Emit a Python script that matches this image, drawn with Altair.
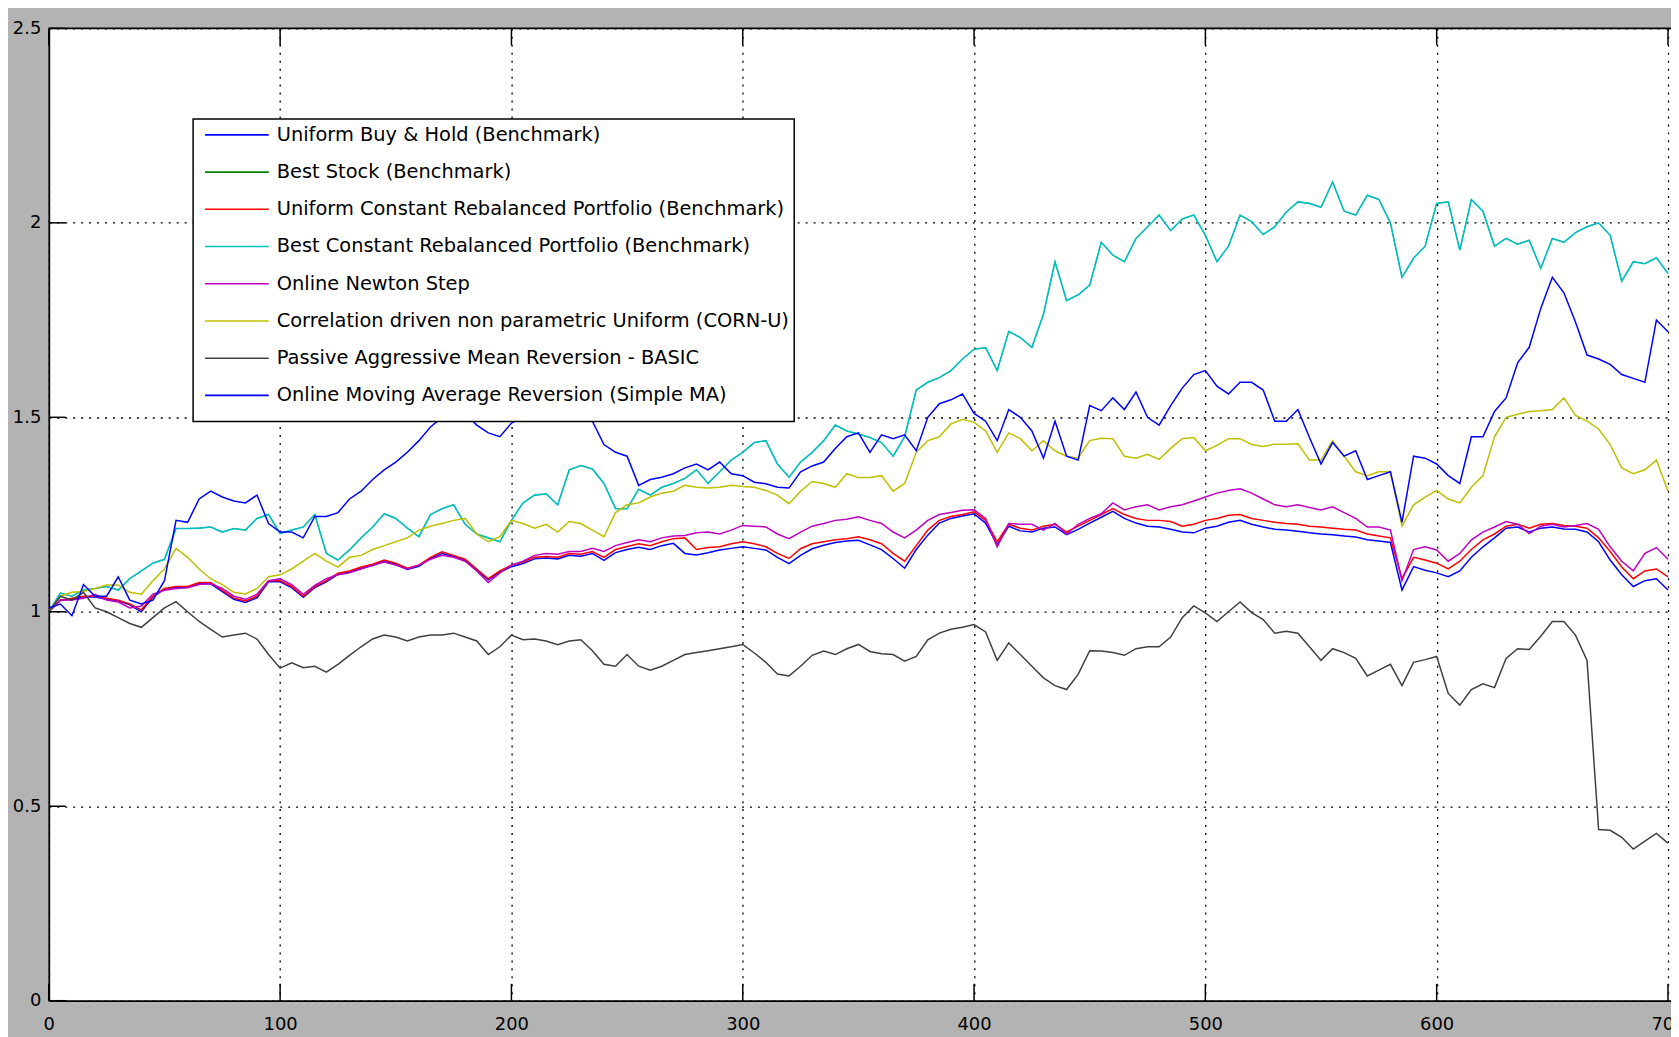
import altair as alt
import pandas as pd

# ---------------- data ----------------
T = list(range(0, 701, 5))

UBAH = [
    1.0, 1.03, 1.032, 1.038, 1.038, 1.032, 1.028, 1.018, 1.0, 1.038,
    1.058, 1.063, 1.063, 1.072, 1.072, 1.052, 1.032, 1.024, 1.036, 1.077,
    1.077, 1.062, 1.037, 1.062, 1.077, 1.096, 1.102, 1.112, 1.119, 1.13,
    1.122, 1.109, 1.117, 1.137, 1.15, 1.142, 1.132, 1.107, 1.082, 1.102,
    1.116, 1.124, 1.136, 1.138, 1.136, 1.145, 1.143, 1.15, 1.132, 1.152,
    1.16, 1.166, 1.16, 1.17, 1.176, 1.15, 1.146, 1.152, 1.159, 1.163,
    1.167, 1.163, 1.159, 1.14, 1.124, 1.145, 1.162, 1.171, 1.178, 1.182,
    1.184, 1.172, 1.16, 1.137, 1.112, 1.16, 1.197, 1.228, 1.24, 1.246,
    1.252, 1.228, 1.172, 1.22, 1.208, 1.205, 1.215, 1.218, 1.198, 1.212,
    1.228, 1.243, 1.258, 1.24, 1.228, 1.22, 1.218, 1.212, 1.205, 1.203,
    1.215, 1.22, 1.23, 1.235, 1.225, 1.218, 1.212, 1.21, 1.207, 1.203,
    1.2, 1.198, 1.195, 1.192, 1.185, 1.182, 1.178, 1.056, 1.116, 1.107,
    1.1, 1.09, 1.105, 1.14, 1.167, 1.19, 1.215, 1.218, 1.205, 1.215,
    1.218, 1.213, 1.212, 1.205, 1.18, 1.133, 1.095, 1.065, 1.08, 1.085,
    1.056,
]

BCRP = [
    1.0, 1.048, 1.04, 1.056, 1.06, 1.065, 1.056, 1.085, 1.105, 1.125,
    1.135, 1.214, 1.214, 1.215, 1.218, 1.205, 1.214, 1.21, 1.24, 1.25,
    1.201, 1.21, 1.218, 1.25, 1.15, 1.133, 1.159, 1.19, 1.218, 1.252,
    1.24, 1.215, 1.193, 1.25, 1.265, 1.275, 1.225, 1.20, 1.19, 1.18,
    1.235, 1.28, 1.30, 1.303, 1.275, 1.365, 1.376, 1.367, 1.33, 1.265,
    1.265, 1.315, 1.30, 1.32, 1.33, 1.343, 1.365, 1.33, 1.36, 1.39,
    1.41, 1.435, 1.44, 1.38, 1.346, 1.385, 1.41, 1.44, 1.48, 1.465,
    1.457, 1.448, 1.435, 1.40, 1.45, 1.57, 1.59, 1.602, 1.62, 1.65,
    1.675, 1.679, 1.62, 1.721, 1.705, 1.68, 1.765, 1.90, 1.80, 1.815,
    1.84, 1.95, 1.917, 1.90, 1.96, 1.99, 2.02, 1.98, 2.01, 2.02,
    1.968, 1.90, 1.94, 2.02, 2.003, 1.97, 1.99, 2.028, 2.054, 2.05,
    2.04, 2.105, 2.03, 2.02, 2.071, 2.06, 2.0, 1.86, 1.909, 1.94,
    2.05, 2.054, 1.93, 2.06, 2.03, 1.94, 1.96, 1.945, 1.955, 1.883,
    1.96, 1.95, 1.975, 1.99, 2.0, 1.968, 1.85, 1.90, 1.895, 1.91,
    1.87,
]

# Best Stock is hidden under the Best CRP line in the picture
BEST_STOCK = list(BCRP)

UCRP = [
    1.0, 1.03, 1.035, 1.04, 1.04, 1.035, 1.03, 1.02, 1.005, 1.04,
    1.06, 1.065, 1.065, 1.075, 1.075, 1.055, 1.035, 1.028, 1.04, 1.08,
    1.08, 1.065, 1.04, 1.065, 1.08, 1.099, 1.105, 1.115, 1.122, 1.133,
    1.125, 1.112, 1.12, 1.14, 1.154, 1.145, 1.135, 1.11, 1.085, 1.105,
    1.12, 1.128, 1.14, 1.142, 1.14, 1.15, 1.148, 1.155, 1.14, 1.16,
    1.168, 1.175, 1.17, 1.18, 1.188, 1.19, 1.16, 1.165, 1.167, 1.175,
    1.18, 1.175, 1.167, 1.15, 1.137, 1.162, 1.175, 1.18, 1.185, 1.188,
    1.193, 1.185, 1.175, 1.15, 1.13, 1.17, 1.21, 1.235, 1.245, 1.25,
    1.257, 1.235, 1.18, 1.225, 1.215, 1.21, 1.22, 1.225, 1.205, 1.22,
    1.235, 1.25, 1.265, 1.25, 1.24, 1.235, 1.235, 1.232, 1.22, 1.225,
    1.235, 1.24, 1.248, 1.25, 1.24, 1.235, 1.23, 1.227, 1.225, 1.22,
    1.218, 1.215, 1.212, 1.21, 1.2, 1.195, 1.19, 1.085, 1.14, 1.133,
    1.125, 1.11, 1.13, 1.16, 1.185, 1.2, 1.22, 1.225, 1.215, 1.225,
    1.227, 1.222, 1.22, 1.215, 1.19, 1.155, 1.115, 1.085, 1.105, 1.11,
    1.09,
]

ONS = [
    1.0, 1.03, 1.03, 1.035, 1.045, 1.03, 1.025, 1.01, 1.015, 1.045,
    1.055, 1.06, 1.062, 1.07, 1.072, 1.06, 1.04, 1.032, 1.045, 1.08,
    1.085, 1.07, 1.045, 1.068, 1.085, 1.095, 1.1, 1.11, 1.12, 1.128,
    1.12, 1.11, 1.12, 1.135, 1.145, 1.14, 1.13, 1.105, 1.075, 1.1,
    1.12, 1.13, 1.145, 1.15, 1.148, 1.155, 1.155, 1.163, 1.155, 1.17,
    1.178, 1.185, 1.18, 1.19, 1.195, 1.196, 1.203, 1.205, 1.2, 1.21,
    1.222, 1.22, 1.218, 1.2, 1.188, 1.205, 1.22, 1.227, 1.235, 1.238,
    1.244, 1.235, 1.227, 1.205, 1.19, 1.21, 1.235, 1.25, 1.255, 1.261,
    1.262, 1.24, 1.167, 1.227, 1.225, 1.225, 1.21, 1.227, 1.2, 1.225,
    1.24, 1.252, 1.28, 1.262, 1.27, 1.275, 1.262, 1.27, 1.275, 1.285,
    1.295, 1.305, 1.312, 1.316, 1.305, 1.29, 1.275, 1.27, 1.275, 1.268,
    1.262, 1.27, 1.255, 1.24, 1.218, 1.218, 1.21, 1.08, 1.16, 1.167,
    1.159, 1.13, 1.15, 1.185, 1.205, 1.218, 1.232, 1.225, 1.201, 1.22,
    1.225, 1.218, 1.222, 1.227, 1.212, 1.167, 1.13, 1.105, 1.15, 1.165,
    1.135,
]

CORN = [
    1.0, 1.04, 1.05, 1.052, 1.06, 1.069, 1.069, 1.05, 1.045, 1.08,
    1.11, 1.163, 1.14, 1.11, 1.085, 1.07, 1.05, 1.046, 1.06, 1.09,
    1.095, 1.11, 1.13, 1.15, 1.13, 1.115, 1.14, 1.145, 1.16, 1.17,
    1.18, 1.19, 1.21, 1.22, 1.227, 1.235, 1.24, 1.20, 1.18, 1.193,
    1.235, 1.227, 1.215, 1.225, 1.205, 1.232, 1.227, 1.21, 1.193, 1.255,
    1.275, 1.28, 1.295, 1.305, 1.31, 1.325, 1.32, 1.318, 1.32, 1.325,
    1.322, 1.32, 1.312, 1.30, 1.278, 1.31, 1.335, 1.33, 1.32, 1.355,
    1.345, 1.345, 1.35, 1.31, 1.33, 1.41, 1.44, 1.45, 1.483, 1.495,
    1.487, 1.465, 1.41, 1.46, 1.445, 1.414, 1.44, 1.414, 1.40, 1.395,
    1.44, 1.446, 1.445, 1.40, 1.395, 1.405, 1.392, 1.42, 1.445, 1.448,
    1.414, 1.428, 1.445, 1.445, 1.43, 1.425, 1.431, 1.431, 1.432, 1.39,
    1.39, 1.44, 1.40, 1.36, 1.35, 1.36, 1.36, 1.22, 1.275, 1.295,
    1.312, 1.29, 1.28, 1.32, 1.35, 1.45, 1.50, 1.508, 1.515, 1.517,
    1.52, 1.55, 1.505, 1.49, 1.47, 1.43, 1.37, 1.355, 1.365, 1.39,
    1.31,
]

PAMR = [
    1.0, 1.04, 1.03, 1.05, 1.01, 1.0, 0.985, 0.97, 0.96, 0.985,
    1.01, 1.026, 1.0, 0.975, 0.955, 0.935, 0.94, 0.945, 0.93, 0.89,
    0.855, 0.869, 0.856, 0.86, 0.845, 0.865, 0.888, 0.91, 0.93, 0.94,
    0.935, 0.925, 0.935, 0.94, 0.94, 0.945, 0.935, 0.925, 0.89, 0.91,
    0.94, 0.928, 0.93, 0.925, 0.915, 0.925, 0.928, 0.9, 0.865, 0.86,
    0.89, 0.86, 0.85, 0.86, 0.875, 0.89, 0.895, 0.9, 0.905, 0.91,
    0.916, 0.894, 0.87, 0.84, 0.835, 0.86, 0.888, 0.899, 0.89, 0.905,
    0.916, 0.898, 0.892, 0.89, 0.873, 0.885, 0.928, 0.945, 0.955, 0.96,
    0.967, 0.948, 0.875, 0.92, 0.89, 0.86, 0.83, 0.81, 0.80, 0.839,
    0.9, 0.899, 0.895, 0.888, 0.905, 0.91, 0.91, 0.935, 0.985, 1.015,
    0.997, 0.975, 1.0, 1.025, 0.998, 0.98, 0.945, 0.95, 0.945, 0.91,
    0.875, 0.905, 0.895, 0.88, 0.835, 0.85, 0.865, 0.81, 0.87, 0.877,
    0.885, 0.79, 0.76, 0.8, 0.815, 0.805, 0.88, 0.905, 0.903, 0.937,
    0.975, 0.975, 0.94, 0.875, 0.44, 0.438, 0.42, 0.39, 0.41, 0.43,
    0.405,
]

OLMAR = [
    1.01, 1.02, 0.99, 1.07, 1.04, 1.04, 1.09, 1.03, 1.02, 1.03,
    1.08, 1.235, 1.23, 1.29, 1.31, 1.295, 1.285, 1.28, 1.30, 1.227,
    1.205, 1.205, 1.19, 1.245, 1.245, 1.255, 1.29, 1.31, 1.34, 1.365,
    1.385, 1.41, 1.44, 1.475, 1.50, 1.52, 1.51, 1.48, 1.46, 1.45,
    1.485, 1.50, 1.52, 1.53, 1.53, 1.52, 1.51, 1.49, 1.43, 1.41,
    1.40, 1.325, 1.34, 1.346, 1.355, 1.37, 1.38, 1.365, 1.385, 1.355,
    1.35, 1.333, 1.329, 1.32, 1.318, 1.36, 1.375, 1.385, 1.42, 1.45,
    1.46, 1.41, 1.455, 1.445, 1.455, 1.414, 1.50, 1.535, 1.545, 1.56,
    1.51, 1.49, 1.44, 1.52, 1.50, 1.465, 1.395, 1.49, 1.40, 1.39,
    1.53, 1.517, 1.55, 1.52, 1.565, 1.50, 1.48, 1.53, 1.575, 1.61,
    1.62, 1.58, 1.56, 1.59, 1.59, 1.57, 1.49, 1.49, 1.52, 1.448,
    1.38, 1.435, 1.40, 1.414, 1.34, 1.35, 1.36, 1.23, 1.40, 1.395,
    1.38, 1.35, 1.33, 1.45, 1.45, 1.515, 1.55, 1.64, 1.68, 1.78,
    1.86, 1.82, 1.745, 1.66, 1.65, 1.636, 1.61, 1.60, 1.59, 1.75,
    1.72,
]

NAMES = [
    "Uniform Buy & Hold (Benchmark)",
    "Best Stock (Benchmark)",
    "Uniform Constant Rebalanced Portfolio (Benchmark)",
    "Best Constant Rebalanced Portfolio (Benchmark)",
    "Online Newton Step",
    "Correlation driven non parametric Uniform (CORN-U)",
    "Passive Aggressive Mean Reversion - BASIC",
    "Online Moving Average Reversion (Simple MA)",
]
SERIES = [UBAH, BEST_STOCK, UCRP, BCRP, ONS, CORN, PAMR, OLMAR]
COLORS = ["#0000ff", "#008000", "#ff0000", "#00bfbf",
          "#bf00bf", "#bfbf00", "#404040", "#0000ff"]
WIDTHS = [1.5, 0.8, 1.5, 1.6, 1.5, 1.5, 1.5, 1.5]

X_TICKS = [0, 100, 200, 300, 400, 500, 600, 700]
Y_TICKS = [0, 0.5, 1, 1.5, 2, 2.5]

# ---------------- layout ----------------
W, H = 1630, 977
XMAX = 701.3
FONT = "DejaVu Sans"

x_scale = alt.Scale(domain=[0, XMAX], nice=False, zero=False)
y_scale = alt.Scale(domain=[0, 2.5], nice=False, zero=False)

x_axis = alt.Axis(values=X_TICKS, grid=True, gridDash=[2, 6], gridColor="black",
                  gridOpacity=1, gridWidth=1.3, ticks=False, domain=True,
                  domainColor="black", domainWidth=1.8, labelFont=FONT,
                  labelFontSize=18, labelColor="black", labelPadding=15,
                  labelFlush=False, labelOverlap=False, labelBound=False,
                  title=None, format="d")
y_axis = alt.Axis(values=Y_TICKS, grid=True, gridDash=[2, 6], gridColor="black",
                  gridOpacity=1, gridWidth=1.3, ticks=False, domain=True,
                  domainColor="black", domainWidth=1.8, labelFont=FONT,
                  labelFontSize=18, labelColor="black", labelPadding=8,
                  labelFlush=False, labelOverlap=False, labelBound=False,
                  title=None, format=".1~f")

layers = []
for vals, col, sw in zip(SERIES, COLORS, WIDTHS):
    df = pd.DataFrame({"t": T, "v": vals})
    layers.append(
        alt.Chart(df).mark_line(color=col, strokeWidth=sw, clip=True).encode(
            x=alt.X("t:Q", scale=x_scale, axis=x_axis),
            y=alt.Y("v:Q", scale=y_scale, axis=y_axis),
        )
    )

# inward ticks (MATLAB style) on bottom, top and left
xt = pd.DataFrame({"t": X_TICKS})
yt = pd.DataFrame({"v": Y_TICKS})
TL = 17
layers.append(alt.Chart(xt).mark_rule(color="black", strokeWidth=1.5).encode(
    x=alt.X("t:Q", scale=x_scale, axis=x_axis), y=alt.value(H), y2=alt.value(H - TL)))
layers.append(alt.Chart(xt).mark_rule(color="black", strokeWidth=1.5).encode(
    x=alt.X("t:Q", scale=x_scale, axis=x_axis), y=alt.value(0), y2=alt.value(TL)))
layers.append(alt.Chart(yt).mark_rule(color="black", strokeWidth=1.5).encode(
    y=alt.Y("v:Q", scale=y_scale, axis=y_axis), x=alt.value(0), x2=alt.value(TL)))

one = pd.DataFrame({"k": [0]})
# top frame line
layers.append(alt.Chart(one).mark_rule(color="black", strokeWidth=1.8).encode(
    x=alt.value(0), x2=alt.value(W), y=alt.value(0)))

# legend box
LX0, LX1, LY0, LY1 = 145, 749, 91, 395
layers.append(alt.Chart(one).mark_rect(fill="white", stroke="black", strokeWidth=1.5).encode(
    x=alt.value(LX0), x2=alt.value(LX1), y=alt.value(LY0), y2=alt.value(LY1)))
for i, (name, col) in enumerate(zip(NAMES, COLORS)):
    yy = 107 + 37.4 * i
    layers.append(alt.Chart(one).mark_rule(color=col, strokeWidth=1.6).encode(
        x=alt.value(157), x2=alt.value(221), y=alt.value(yy)))
    layers.append(alt.Chart(one).mark_text(
        align="left", baseline="middle", font=FONT, fontSize=19.5, color="black").encode(
        x=alt.value(229), y=alt.value(yy), text=alt.value(name)))

chart = alt.layer(*layers).properties(
    width=W, height=H,
    autosize=alt.AutoSizeParams(type="none"),
    padding={"left": 41, "top": 18, "right": 0, "bottom": 34},
    background="#b3b3b3",
).configure_view(fill="white", stroke=None)

chart.save("out.html", embed_options={"renderer": "svg", "actions": False})
